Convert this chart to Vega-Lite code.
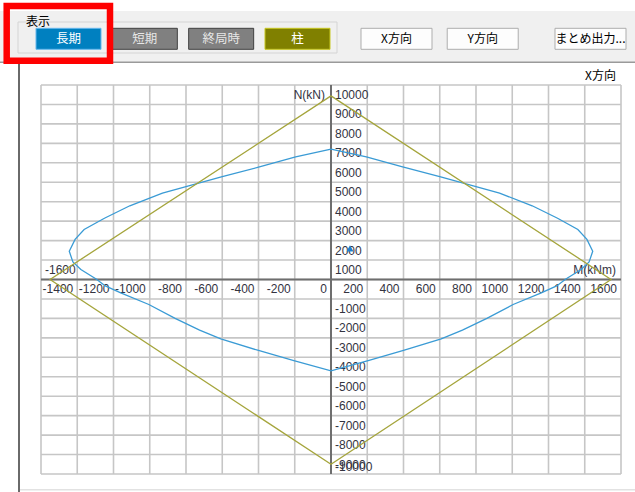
{
  "$schema": "https://vega.github.io/schema/vega-lite/v6.json",
  "width": 635,
  "height": 492,
  "padding": 0,
  "autosize": {"type": "none"},
  "background": "white",
  "config": {"view": {"stroke": null}, "font": "Liberation Sans"},
  "datasets": {
    "curves": [
      {"series": "長期", "i": 0, "M": 0, "N": 6700},
      {"series": "長期", "i": 1, "M": 195, "N": 6310},
      {"series": "長期", "i": 2, "M": 390, "N": 5800},
      {"series": "長期", "i": 3, "M": 605, "N": 5280},
      {"series": "長期", "i": 4, "M": 785, "N": 4810},
      {"series": "長期", "i": 5, "M": 930, "N": 4440},
      {"series": "長期", "i": 6, "M": 1110, "N": 3790},
      {"series": "長期", "i": 7, "M": 1250, "N": 3150},
      {"series": "長期", "i": 8, "M": 1362, "N": 2570},
      {"series": "長期", "i": 9, "M": 1412, "N": 2060},
      {"series": "長期", "i": 10, "M": 1444, "N": 1450},
      {"series": "長期", "i": 11, "M": 1424, "N": 900},
      {"series": "長期", "i": 12, "M": 1380, "N": 510},
      {"series": "長期", "i": 13, "M": 1296, "N": 30},
      {"series": "長期", "i": 14, "M": 1245, "N": -330},
      {"series": "長期", "i": 15, "M": 1160, "N": -690},
      {"series": "長期", "i": 16, "M": 1005, "N": -1285},
      {"series": "長期", "i": 17, "M": 860, "N": -2000},
      {"series": "長期", "i": 18, "M": 725, "N": -2600},
      {"series": "長期", "i": 19, "M": 608, "N": -3050},
      {"series": "長期", "i": 20, "M": 400, "N": -3650},
      {"series": "長期", "i": 21, "M": 205, "N": -4170},
      {"series": "長期", "i": 22, "M": 0, "N": -4700},
      {"series": "長期", "i": 23, "M": -205, "N": -4170},
      {"series": "長期", "i": 24, "M": -400, "N": -3650},
      {"series": "長期", "i": 25, "M": -608, "N": -3050},
      {"series": "長期", "i": 26, "M": -725, "N": -2600},
      {"series": "長期", "i": 27, "M": -860, "N": -2000},
      {"series": "長期", "i": 28, "M": -1005, "N": -1285},
      {"series": "長期", "i": 29, "M": -1160, "N": -690},
      {"series": "長期", "i": 30, "M": -1245, "N": -330},
      {"series": "長期", "i": 31, "M": -1296, "N": 30},
      {"series": "長期", "i": 32, "M": -1380, "N": 510},
      {"series": "長期", "i": 33, "M": -1424, "N": 900},
      {"series": "長期", "i": 34, "M": -1444, "N": 1450},
      {"series": "長期", "i": 35, "M": -1412, "N": 2060},
      {"series": "長期", "i": 36, "M": -1362, "N": 2570},
      {"series": "長期", "i": 37, "M": -1250, "N": 3150},
      {"series": "長期", "i": 38, "M": -1110, "N": 3790},
      {"series": "長期", "i": 39, "M": -930, "N": 4440},
      {"series": "長期", "i": 40, "M": -785, "N": 4810},
      {"series": "長期", "i": 41, "M": -605, "N": 5280},
      {"series": "長期", "i": 42, "M": -390, "N": 5800},
      {"series": "長期", "i": 43, "M": -195, "N": 6310},
      {"series": "長期", "i": 44, "M": 0, "N": 6700},
      {"series": "柱", "i": 0, "M": 0, "N": 9440},
      {"series": "柱", "i": 1, "M": 1545, "N": 0},
      {"series": "柱", "i": 2, "M": 0, "N": -9500},
      {"series": "柱", "i": 3, "M": -1550, "N": 0},
      {"series": "柱", "i": 4, "M": 0, "N": 9440}
    ],
    "xticks": [
      {"M": -1600}, {"M": -1400}, {"M": -1200}, {"M": -1000}, {"M": -800}, {"M": -600},
      {"M": -400}, {"M": -200}, {"M": 0}, {"M": 200}, {"M": 400}, {"M": 600},
      {"M": 800}, {"M": 1000}, {"M": 1200}, {"M": 1400}, {"M": 1600}
    ],
    "yticks": [
      {"N": -10000}, {"N": -9000}, {"N": -8000}, {"N": -7000}, {"N": -6000}, {"N": -5000},
      {"N": -4000}, {"N": -3000}, {"N": -2000}, {"N": -1000}, {"N": 0}, {"N": 1000},
      {"N": 2000}, {"N": 3000}, {"N": 4000}, {"N": 5000}, {"N": 6000}, {"N": 7000},
      {"N": 8000}, {"N": 9000}, {"N": 10000}
    ],
    "loadpt": [{"M": 105, "N": 1600}],
    "btnA": [{"button": "長期"}, {"button": "短期"}, {"button": "終局時"}, {"button": "柱"}],
    "btnB": [{"button": "X方向"}, {"button": "Y方向"}, {"button": "まとめ出力..."}]
  },
  "layer": [
    {
      "layer": [
        {
          "data": {"name": "xticks"},
          "mark": {"type": "rule", "color": "#c6c6c6", "strokeWidth": 1.6},
          "encoding": {
            "x": {"field": "M", "type": "quantitative", "scale": {"domain": [-1826.2, 1677.24], "nice": false, "zero": false}, "axis": null},
            "y": {"datum": -10000, "type": "quantitative", "scale": {"domain": [-10925.4, 14370], "nice": false, "zero": false}, "axis": null},
            "y2": {"datum": 10000}
          }
        },
        {
          "data": {"name": "yticks"},
          "mark": {"type": "rule", "color": "#c6c6c6", "strokeWidth": 1.6},
          "encoding": {
            "y": {"field": "N", "type": "quantitative", "axis": null},
            "x": {"datum": -1600, "type": "quantitative", "axis": null},
            "x2": {"datum": 1600}
          }
        },
        {
          "data": {"values": [{}]},
          "mark": {"type": "rule", "color": "#6e6e6e", "strokeWidth": 2},
          "encoding": {
            "x": {"datum": 0, "type": "quantitative", "axis": null},
            "y": {"datum": -10000, "type": "quantitative", "axis": null},
            "y2": {"datum": 10000}
          }
        },
        {
          "data": {"values": [{}]},
          "mark": {"type": "rule", "color": "#6e6e6e", "strokeWidth": 2},
          "encoding": {
            "y": {"datum": 0, "type": "quantitative", "axis": null},
            "x": {"datum": -1600, "type": "quantitative", "axis": null},
            "x2": {"datum": 1600}
          }
        },
        {
          "data": {"name": "xticks"},
          "transform": [{"filter": "datum.M > -1600"}],
          "mark": {"type": "text", "align": "right", "baseline": "top", "dx": -4, "dy": 5, "font": "Liberation Sans", "fontSize": 12, "color": "#33333f"},
          "encoding": {
            "x": {"field": "M", "type": "quantitative", "axis": null},
            "y": {"datum": 0, "type": "quantitative", "axis": null},
            "text": {"field": "M", "type": "nominal"}
          }
        },
        {
          "data": {"name": "xticks"},
          "transform": [{"filter": "datum.M === -1600"}],
          "mark": {"type": "text", "align": "left", "baseline": "alphabetic", "dx": 4, "dy": -5, "font": "Liberation Sans", "fontSize": 12, "color": "#33333f"},
          "encoding": {
            "x": {"field": "M", "type": "quantitative", "axis": null},
            "y": {"datum": 0, "type": "quantitative", "axis": null},
            "text": {"field": "M", "type": "nominal"}
          }
        },
        {
          "data": {"name": "yticks"},
          "transform": [{"filter": "datum.N !== 0 && datum.N !== -10000"}],
          "mark": {"type": "text", "align": "left", "baseline": "top", "dx": 4, "dy": 5, "font": "Liberation Sans", "fontSize": 12, "color": "#33333f"},
          "encoding": {
            "y": {"field": "N", "type": "quantitative", "axis": null},
            "x": {"datum": 0, "type": "quantitative", "axis": null},
            "text": {"field": "N", "type": "nominal"}
          }
        },
        {
          "data": {"name": "yticks"},
          "transform": [{"filter": "datum.N === -10000"}],
          "mark": {"type": "text", "align": "left", "baseline": "bottom", "dx": 4, "dy": 0, "font": "Liberation Sans", "fontSize": 12, "color": "#33333f"},
          "encoding": {
            "y": {"field": "N", "type": "quantitative", "axis": null},
            "x": {"datum": 0, "type": "quantitative", "axis": null},
            "text": {"field": "N", "type": "nominal"}
          }
        },
        {
          "data": {"values": [{}]},
          "mark": {"type": "text", "text": "N(kN)", "align": "right", "baseline": "middle", "dx": -6, "dy": 10, "font": "Liberation Sans", "fontSize": 12, "color": "#33333f"},
          "encoding": {
            "x": {"datum": 0, "type": "quantitative", "axis": null},
            "y": {"datum": 10000, "type": "quantitative", "axis": null}
          }
        },
        {
          "data": {"values": [{}]},
          "mark": {"type": "text", "text": "M(kNm)", "align": "right", "baseline": "middle", "dx": -5, "dy": -9.5, "font": "Liberation Sans", "fontSize": 12, "color": "#33333f"},
          "encoding": {
            "x": {"datum": 1600, "type": "quantitative", "axis": null},
            "y": {"datum": 0, "type": "quantitative", "axis": null}
          }
        },
        {
          "data": {"name": "curves"},
          "mark": {"type": "line", "strokeWidth": 1.3},
          "encoding": {
            "x": {"field": "M", "type": "quantitative", "axis": null},
            "y": {"field": "N", "type": "quantitative", "axis": null},
            "color": {"field": "series", "type": "nominal", "scale": {"domain": ["長期", "柱"], "range": ["#3a9bd5", "#a5a53c"]}, "legend": null},
            "order": {"field": "i", "type": "quantitative"}
          }
        },
        {
          "data": {"name": "loadpt"},
          "mark": {"type": "point", "shape": "triangle-up", "filled": true, "size": 50, "color": "#1f80d0", "opacity": 1},
          "encoding": {
            "x": {"field": "M", "type": "quantitative", "axis": null},
            "y": {"field": "N", "type": "quantitative", "axis": null}
          }
        },
        {
          "data": {"values": [{}]},
          "mark": {"type": "text", "text": "X方向", "align": "right", "baseline": "middle", "dx": -5, "dy": -9, "font": "Noto Sans CJK JP", "fontSize": 12, "color": "#000000"},
          "encoding": {
            "x": {"datum": 1600, "type": "quantitative", "axis": null},
            "y": {"datum": 10000, "type": "quantitative", "axis": null}
          }
        }
      ]
    },
    {
      "layer": [
        {
          "data": {"values": [{}]},
          "mark": {"type": "rect", "fill": "#f0f0f0", "yOffset": -10.7, "y2Offset": 23.5},
          "encoding": {
            "y": {"datum": "caption", "type": "nominal", "scale": {"type": "point", "domain": ["caption", "buttons"], "range": [21.7, 38.8], "padding": 0}, "axis": null},
            "y2": {"datum": "buttons"}
          }
        },
        {
          "data": {"values": [{}]},
          "mark": {"type": "rule", "color": "#9a9a9a", "strokeWidth": 1.5, "yOffset": 23.5},
          "encoding": {
            "y": {"datum": "buttons", "type": "nominal", "axis": null}
          }
        },
        {
          "data": {"values": [{}]},
          "mark": {"type": "rule", "color": "#6a6a6a", "strokeWidth": 2, "xOffset": -49.5, "yOffset": 23.5, "y2Offset": 453.2},
          "encoding": {
            "x": {"datum": "長期", "type": "nominal", "scale": {"type": "point", "domain": ["長期", "短期", "終局時", "柱"], "range": [68.5, 297.5], "padding": 0}, "axis": null},
            "y": {"datum": "buttons", "type": "nominal", "axis": null},
            "y2": {"datum": "buttons"}
          }
        },
        {
          "data": {"values": [{}]},
          "mark": {"type": "rule", "color": "#e2e2e2", "strokeWidth": 1.5, "xOffset": -48.5, "x2Offset": 337.5, "yOffset": 451},
          "encoding": {
            "x": {"datum": "長期", "type": "nominal", "axis": null},
            "x2": {"datum": "柱"},
            "y": {"datum": "buttons", "type": "nominal", "axis": null}
          }
        },
        {
          "data": {"values": [{}]},
          "mark": {"type": "rect", "fillOpacity": 0, "stroke": "#d4d4d4", "strokeWidth": 1, "xOffset": -50.5, "x2Offset": 39.5, "yOffset": 0.3, "y2Offset": 14.2},
          "encoding": {
            "x": {"datum": "長期", "type": "nominal", "axis": null},
            "x2": {"datum": "柱"},
            "y": {"datum": "caption", "type": "nominal", "axis": null},
            "y2": {"datum": "buttons"}
          }
        },
        {
          "data": {"values": [{}]},
          "mark": {"type": "text", "text": "表示", "align": "left", "baseline": "middle", "dx": -42.5, "font": "Noto Sans CJK JP", "fontSize": 12, "color": "#000000"},
          "encoding": {
            "x": {"datum": "長期", "type": "nominal", "axis": null},
            "y": {"datum": "caption", "type": "nominal", "axis": null}
          }
        },
        {
          "data": {"name": "btnA"},
          "mark": {"type": "rect", "strokeWidth": 1, "xOffset": -32.5, "x2Offset": 32.5, "yOffset": -10.5, "y2Offset": 10.5},
          "encoding": {
            "x": {"field": "button", "type": "nominal", "axis": null},
            "x2": {"field": "button"},
            "y": {"datum": "buttons", "type": "nominal", "axis": null},
            "y2": {"datum": "buttons"},
            "fill": {"field": "button", "type": "nominal", "scale": {"domain": ["長期", "短期", "終局時", "柱"], "range": ["#0080c0", "#808080", "#808080", "#808000"]}, "legend": null},
            "stroke": {"field": "button", "type": "nominal", "scale": {"domain": ["長期", "短期", "終局時", "柱"], "range": ["#66b8ee", "#404040", "#404040", "#c8c820"]}, "legend": null}
          }
        },
        {
          "data": {"name": "btnA"},
          "mark": {"type": "text", "align": "center", "baseline": "middle", "font": "Noto Sans CJK JP", "fontSize": 12.5},
          "encoding": {
            "x": {"field": "button", "type": "nominal", "axis": null},
            "y": {"datum": "buttons", "type": "nominal", "axis": null},
            "text": {"field": "button", "type": "nominal"},
            "color": {"condition": {"test": "datum.button === '長期' || datum.button === '柱'", "value": "#ffffff"}, "value": "#e6e6e6"}
          }
        },
        {
          "data": {"values": [{}]},
          "mark": {"type": "rect", "fillOpacity": 0, "stroke": "#ff0000", "strokeWidth": 6.5, "xOffset": -61.8, "x2Offset": 41.5, "yOffset": -15.7, "y2Offset": 21.9},
          "encoding": {
            "x": {"datum": "長期", "type": "nominal", "axis": null},
            "x2": {"datum": "長期"},
            "y": {"datum": "caption", "type": "nominal", "axis": null},
            "y2": {"datum": "buttons"}
          }
        }
      ]
    },
    {
      "layer": [
        {
          "data": {"name": "btnB"},
          "mark": {"type": "rect", "fill": "#fdfdfd", "stroke": "#adadad", "strokeWidth": 1, "xOffset": -35.5, "x2Offset": 35.5, "yOffset": -10.5, "y2Offset": 10.5},
          "encoding": {
            "x": {"field": "button", "type": "nominal", "scale": {"type": "point", "domain": ["X方向", "b1", "b2", "b3", "Y方向", "b4", "b5", "b6", "b7", "まとめ出力..."], "range": [396.5, 590.5], "padding": 0}, "axis": null},
            "x2": {"field": "button"},
            "y": {"datum": "buttons", "type": "nominal", "scale": {"type": "point", "domain": ["caption", "buttons"], "range": [21.7, 38.8], "padding": 0}, "axis": null},
            "y2": {"datum": "buttons"}
          }
        },
        {
          "data": {"name": "btnB"},
          "mark": {"type": "text", "align": "center", "baseline": "middle", "font": "Noto Sans CJK JP", "fontSize": 12, "color": "#000000"},
          "encoding": {
            "x": {"field": "button", "type": "nominal", "axis": null},
            "y": {"datum": "buttons", "type": "nominal", "axis": null},
            "text": {"field": "button", "type": "nominal"}
          }
        }
      ]
    }
  ],
  "resolve": {"scale": {"x": "independent", "y": "independent", "color": "independent", "fill": "independent", "stroke": "independent"}}
}
